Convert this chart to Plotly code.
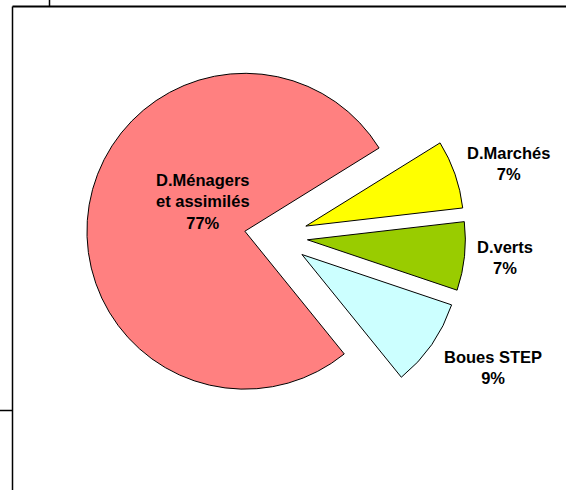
import plotly.graph_objects as go

labels = ["D.Ménagers<br>et assimilés", "D.Marchés", "D.verts", "Boues STEP"]
values = [77, 7, 7, 9]
colors = ["#FF8080", "#FFFF00", "#99CC00", "#CCFFFF"]
pulls = [0.2, 0.2, 0.2, 0.2]
# label anchor positions (screen px, centre of text block)
label_x = [203, 508, 505, 493]
label_y = [201.5, 163.5, 257, 367]

W, H = 566, 495
FONT = dict(family="Liberation Sans, Arial, sans-serif", size=16.5, color="black", weight="bold")

fig = go.Figure(go.Pie(
    labels=labels,
    values=values,
    sort=False,
    direction="clockwise",
    rotation=141,
    pull=pulls,
    automargin=False,
    marker=dict(colors=colors, line=dict(color="black", width=1)),
    textinfo="none",
    showlegend=False,
    hoverinfo="label+percent",
    domain=dict(x=[0.1528, 0.8225], y=[0.1394, 0.9051]),
))

def px(x):
    return x / W

def py(y):
    return 1 - y / H

total = sum(values)
annotations = []
for lab, v, x, y in zip(labels, values, label_x, label_y):
    annotations.append(dict(
        xref="paper", yref="paper", x=px(x), y=py(y),
        xanchor="center", yanchor="middle", align="center",
        text=f"{lab}<br>{round(100 * v / total)}%",
        showarrow=False, font=FONT,
    ))

line = dict(color="black", width=1.5)
shapes = [
    dict(type="line", xref="paper", yref="paper", x0=px(12.5), x1=px(566), y0=py(6.5), y1=py(6.5), line=dict(color="black", width=2)),
    dict(type="line", xref="paper", yref="paper", x0=px(49.5), x1=px(49.5), y0=py(0), y1=py(6.5), line=line),
    dict(type="line", xref="paper", yref="paper", x0=px(12.5), x1=px(12.5), y0=py(6.5), y1=py(490), line=line),
    dict(type="line", xref="paper", yref="paper", x0=px(0), x1=px(12.5), y0=py(410.5), y1=py(410.5), line=line),
]

fig.update_layout(
    width=W, height=H, autosize=False,
    margin=dict(l=0, r=0, t=0, b=0, pad=0, autoexpand=False),
    paper_bgcolor="white",
    plot_bgcolor="white",
    shapes=shapes,
    annotations=annotations,
)

fig.write_html(
    "out.html",
    config={"displayModeBar": False},
    post_script="document.body.style.margin='0px';document.body.style.overflow='hidden';",
)
